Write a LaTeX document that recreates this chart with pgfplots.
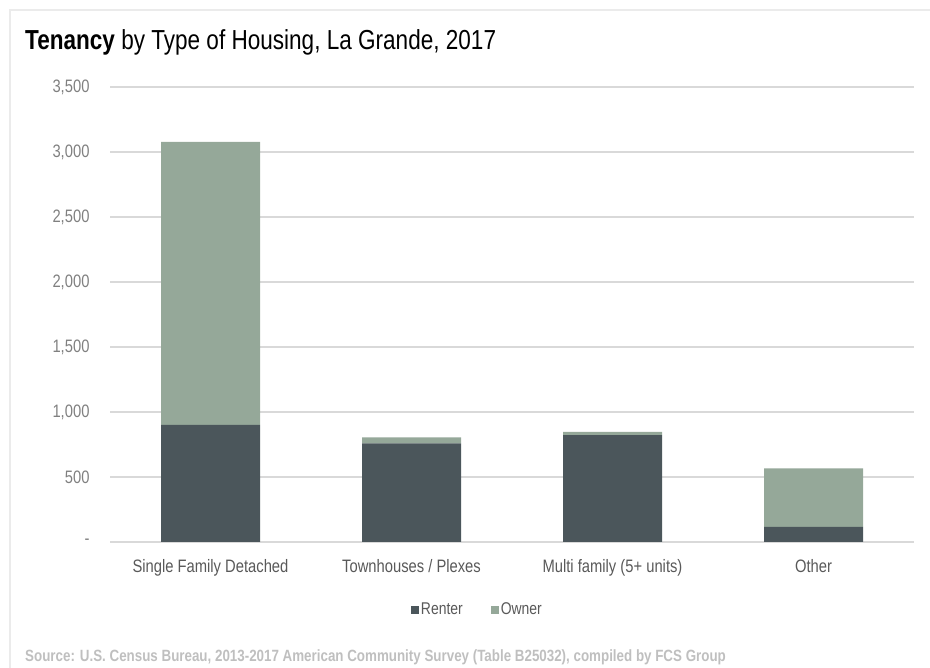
\documentclass[border=0pt]{standalone}
\usepackage{pgfplots}
\pgfplotsset{compat=1.18}
\usepackage{fontspec}
\setmainfont{Liberation Sans}[FakeStretch=0.82]
\definecolor{renter}{HTML}{4B565B}
\definecolor{owner}{HTML}{95A899}
\definecolor{gridc}{HTML}{D9D9D9}
\definecolor{tickc}{HTML}{808080}
\definecolor{catc}{HTML}{595959}
\definecolor{srcc}{HTML}{BFBFBF}
\definecolor{framec}{HTML}{EBEBEB}
\begin{document}
\begin{tikzpicture}
\path[use as bounding box] (0,0) rectangle (930bp,668bp);
\draw[framec,line width=1.5bp] (10bp,0) -- (10bp,658bp) -- (930bp,658bp);
\begin{axis}[
  at={(110bp,126bp)}, anchor=south west,
  width=804bp, height=455bp, scale only axis,
  xmin=-0.5, xmax=3.5, ymin=0, ymax=3500,
  ybar stacked, bar width=99bp,
  axis line style={draw=none},
  major tick style={draw=none},
  ymajorgrids, major grid style={gridc,line width=1.5bp},
  ytick={0,500,1000,1500,2000,2500,3000,3500},
  yticklabels={-,500,{1,000},{1,500},{2,000},{2,500},{3,000},{3,500}},
  xtick={0,1,2,3},
  xticklabels={Single Family Detached,Townhouses / Plexes,Multi family (5+ units),Other},
  yticklabel style={font=\fontsize{18bp}{20bp}\selectfont, text=tickc, xshift=-17bp},
  xticklabel style={font=\fontsize{18bp}{20bp}\selectfont, text=catc, yshift=-14bp},
  legend style={at={(0.457,-0.149)}, anchor=center, draw=none, fill=none,
    legend columns=2, font=\fontsize{17bp}{19bp}\selectfont\color{catc},
    /tikz/every even column/.append style={column sep=26bp}},
  legend image code/.code={\fill[#1] (0bp,-4bp) rectangle (8bp,4bp);},
]
\addplot[fill=renter, draw=none] coordinates {(0,900) (1,758) (2,822) (3,117)};
\addplot[fill=owner, draw=none] coordinates {(0,2177) (1,46) (2,25) (3,450)};
\legend{Renter,Owner}
\end{axis}
\node[anchor=base west, inner sep=0] at (25bp,618bp) {\fontsize{27.5bp}{31bp}\selectfont\textbf{Tenancy} by Type of Housing, La Grande, 2017};
\node[anchor=base west, inner sep=0, text=srcc] at (25bp,7bp) {\fontsize{16.3bp}{18bp}\selectfont\bfseries Source: U.S. Census Bureau, 2013-2017 American Community Survey (Table B25032), compiled by FCS Group};
\end{tikzpicture}
\end{document}
